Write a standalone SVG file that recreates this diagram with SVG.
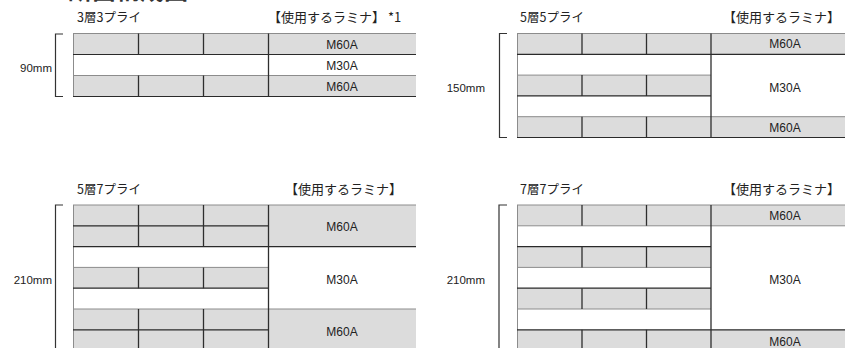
<svg xmlns="http://www.w3.org/2000/svg" width="845" height="348" viewBox="0 0 845 348">
<style>
.bg{fill:#ffffff}
.g{fill:#dcdcdc}
.w{fill:#ffffff}
.d{stroke:#2a2a2a;stroke-width:1.2;fill:none}
.l{stroke:#8c8c8c;stroke-width:1;fill:none}
.v{stroke:#2e2e2e;stroke-width:1.3;fill:none}
.br{stroke:#333333;stroke-width:1.2;fill:none}
.t{font-family:"Liberation Sans","Noto Sans CJK JP",sans-serif;font-size:11.5px;fill:#222222;text-anchor:end}
.j{font-family:"Noto Sans CJK JP","Liberation Sans",sans-serif;font-size:12.5px;fill:#222222}
.k{font-family:"Noto Sans CJK JP","Liberation Sans",sans-serif;font-size:13px;fill:#222222}
.m{font-family:"Liberation Sans",Arial,sans-serif;font-size:12px;fill:#222222;text-anchor:middle}
.h{font-family:"Noto Sans CJK JP",sans-serif;font-size:24px;font-weight:bold;fill:#333333}
</style>
<rect class="bg" x="0" y="0" width="845" height="348"/>
<text class="h" x="68" y="-1">断面構成図</text>

<g id="p1">
  <text class="j" x="77" y="22">3層3プライ</text>
  <text class="k" x="268" y="22">【使用するラミナ】 *1</text>
  <path class="br" d="M63,34 H55.5 V96.5 H63"/>
  <text class="t" x="52" y="72">90mm</text>
  <rect class="g" x="73" y="33.5" width="343" height="21"/>
  <rect class="w" x="73" y="54.5" width="343" height="21"/>
  <rect class="g" x="73" y="75.5" width="343" height="21"/>
  <path class="l" d="M73,33.5 H416 M73,75.5 H416 M73.5,33.5 V96.5"/>
  <path class="d" d="M73,54.5 H416 M73,96.5 H416"/>
  <path class="v" d="M138.5,33.5 V54.5 M203.5,33.5 V54.5 M138.5,75.5 V96.5 M203.5,75.5 V96.5 M268.5,33.5 V96.5"/>
  <text class="m" x="342" y="48.5">M60A</text>
  <text class="m" x="342" y="69.5">M30A</text>
  <text class="m" x="342" y="90.5">M60A</text>
</g>

<g id="p2">
  <text class="j" x="520" y="22">5層5プライ</text>
  <text class="k" x="723" y="22">【使用するラミナ】</text>
  <path class="br" d="M507,33.5 H499.5 V137.5 H507"/>
  <text class="t" x="485" y="92">150mm</text>
  <rect class="g" x="517" y="33.5" width="328" height="20.8"/>
  <rect class="w" x="517" y="54.3" width="328" height="62.4"/>
  <rect class="g" x="517" y="75.1" width="194" height="20.8"/>
  <rect class="g" x="517" y="116.7" width="328" height="20.8"/>
  <path class="l" d="M517,33.5 H845 M517,75.1 H711 M517,116.7 H845 M517.5,33.5 V137.5"/>
  <path class="d" d="M517,54.3 H845 M517,95.9 H711 M517,137.5 H845"/>
  <path class="v" d="M582,33.5 V54.3 M646.5,33.5 V54.3 M582,75.1 V95.9 M646.5,75.1 V95.9 M582,116.7 V137.5 M646.5,116.7 V137.5 M711,33.5 V137.5"/>
  <text class="m" x="785" y="48">M60A</text>
  <text class="m" x="785" y="92">M30A</text>
  <text class="m" x="785" y="131.5">M60A</text>
</g>

<g id="p3">
  <text class="j" x="77" y="194">5層7プライ</text>
  <text class="k" x="285" y="194">【使用するラミナ】</text>
  <path class="br" d="M63,205 H55.5 V348"/>
  <text class="t" x="52" y="284">210mm</text>
  <rect class="g" x="73" y="205" width="343" height="41.6"/>
  <rect class="w" x="73" y="246.6" width="343" height="62.4"/>
  <rect class="g" x="73" y="267.4" width="195" height="20.8"/>
  <rect class="g" x="73" y="309" width="343" height="41.6"/>
  <path class="l" d="M73,205 H416 M73,267.4 H268 M73,309 H416 M73.5,205 V348"/>
  <path class="d" d="M73,225.8 H268 M73,246.6 H416 M73,288.2 H268 M73,329.8 H268"/>
  <path class="v" d="M138.5,205 V246.6 M203.5,205 V246.6 M138.5,267.4 V288.2 M203.5,267.4 V288.2 M138.5,309 V348 M203.5,309 V348 M268.5,205 V348"/>
  <text class="m" x="342" y="231">M60A</text>
  <text class="m" x="342" y="284">M30A</text>
  <text class="m" x="342" y="336">M60A</text>
</g>

<g id="p4">
  <text class="j" x="520" y="194">7層7プライ</text>
  <text class="k" x="723" y="194">【使用するラミナ】</text>
  <path class="br" d="M507,205 H499 V348"/>
  <text class="t" x="485" y="284">210mm</text>
  <rect class="g" x="517" y="205" width="328" height="20.8"/>
  <rect class="w" x="517" y="225.8" width="328" height="104"/>
  <rect class="g" x="517" y="246.6" width="194" height="20.8"/>
  <rect class="g" x="517" y="288.2" width="194" height="20.8"/>
  <rect class="g" x="517" y="329.8" width="328" height="20.8"/>
  <path class="l" d="M517,205 H845 M517,225.8 H845 M517,267.4 H711 M517,309 H711 M517.5,205 V348"/>
  <path class="d" d="M517,246.6 H711 M517,288.2 H711 M517,329.8 H845"/>
  <path class="v" d="M582,205 V225.8 M646.5,205 V225.8 M582,246.6 V267.4 M646.5,246.6 V267.4 M582,288.2 V309 M646.5,288.2 V309 M582,329.8 V348 M646.5,329.8 V348 M711,205 V348"/>
  <text class="m" x="785" y="219.5">M60A</text>
  <text class="m" x="785" y="284">M30A</text>
  <text class="m" x="785" y="345.5">M60A</text>
</g>

<g id="connectors"></g>
</svg>
